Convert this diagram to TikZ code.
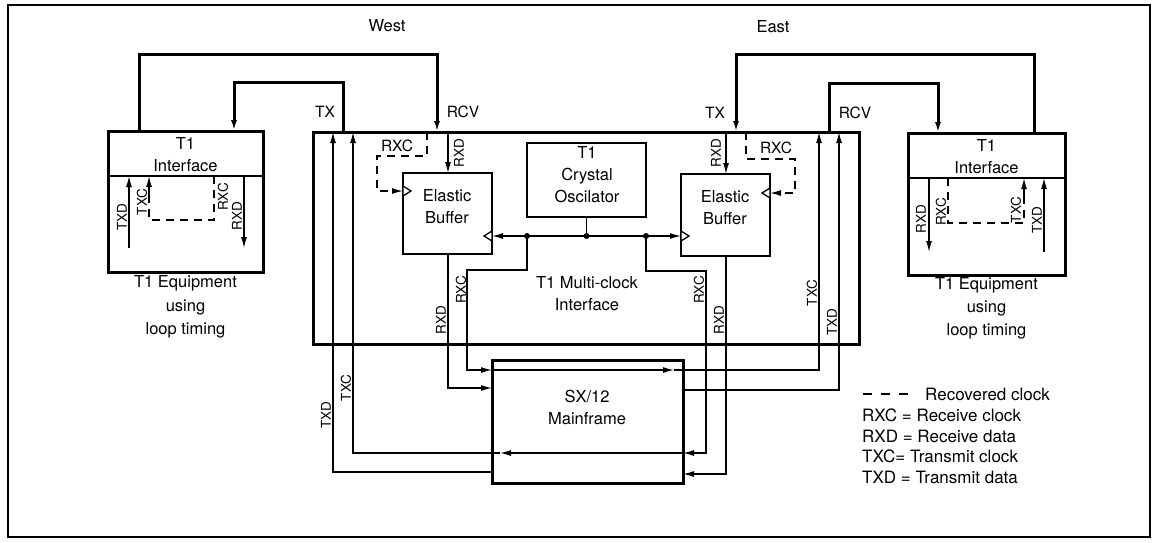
\documentclass[tikz,border=0pt]{standalone}
\usepackage{fontspec}
\setmainfont{TeX Gyre Heros}
\usetikzlibrary{arrows.meta}
\tikzset{
  heavy/.style={line width=3pt},
  sig/.style={line width=1.3pt},
  arr/.style={-{Latex[length=11pt,width=6pt]}},
  boxthin/.style={draw, line width=1.3pt, inner sep=0pt},
  boxthick/.style={draw, line width=3pt, inner sep=0pt},
  txt/.style={font=\fontsize{16.5}{22}\selectfont, inner sep=0pt, align=center},
  small/.style={font=\fontsize{15.5}{18}\selectfont, inner sep=0pt},
  rl/.style={font=\fontsize{13.5}{14}\selectfont, inner sep=0pt, rotate=90},
  rec/.style={line width=1.3pt, dash pattern=on 8pt off 6pt},
  jdot/.style={circle, fill, inner sep=0pt, minimum size=6pt},
  clk/.style={draw, line width=1.3pt, fill=white},
  leg/.style={font=\fontsize{17}{22}\selectfont, inner sep=0pt, anchor=west}
}
\begin{document}
\begin{tikzpicture}[x=1pt,y=-1pt]
\useasboundingbox (0,0) rectangle (1158,542);
\node[draw, line width=1.8pt, minimum width=1142pt, minimum height=532pt, inner sep=0pt] (frame) at (579,271) {};

% ---------- boxes ----------
\node[boxthick, minimum width=546pt, minimum height=212pt] (mci) at (586,238) {};
\node[txt] (mcitxt) at (587,294) {T1 Multi-clock\\Interface};

\node[boxthin, minimum width=89pt, minimum height=81pt] (wbuf) at (447.5,213.5) {};
\node[txt] (wbuftxt) at (447,207) {Elastic\\Buffer};
\node[boxthin, minimum width=89pt, minimum height=82pt] (ebuf) at (725.5,215) {};
\node[txt] (ebuftxt) at (725,208) {Elastic\\Buffer};
\node[boxthin, minimum width=119pt, minimum height=74pt] (osc) at (586.5,180) {};
\node[txt] (osctxt) at (587,175) {T1\\Crystal\\Oscilator};

\node[boxthick, minimum width=191pt, minimum height=123pt] (mf) at (587.5,421.5) {};
\node[txt] (mftxt) at (587,407.5) {SX/12\\Mainframe};

\node[boxthick, minimum width=155pt, minimum height=141pt] (wt1) at (185.5,201.5) {};
\node[txt] (wt1txt) at (185.5,154.5) {T1\\Interface};
\node[txt, font=\fontsize{16.5}{23.5}\selectfont] (wt1cap) at (185.5,307) {T1 Equipment\\using\\loop timing};
\node[boxthick, minimum width=157pt, minimum height=142pt] (et1) at (986.5,204) {};
\node[txt] (et1txt) at (986.5,156.5) {T1\\Interface};
\node[txt, font=\fontsize{16.5}{23}\selectfont] (et1cap) at (986.5,308) {T1 Equipment\\using\\loop timing};

% dividers
\coordinate (wdivL) at (108,176); \coordinate (wdivR) at (263,176);
\coordinate (edivL) at (908,178); \coordinate (edivR) at (1065,178);
\draw[sig] (wdivL) -- (wdivR);
\draw[sig] (edivL) -- (edivR);

% ---------- outer loops ----------
\coordinate (wo1) at (139,131); \coordinate (wo2) at (437,54); \coordinate (wrcv) at (437,132);
\coordinate (wi1) at (343,132); \coordinate (wi2) at (234,82); \coordinate (wi3) at (234,131);
\coordinate (eo1) at (1034,133); \coordinate (eo2) at (736,54); \coordinate (etx) at (736,132);
\coordinate (ei1) at (829,132); \coordinate (ei2) at (938,83); \coordinate (ei3) at (938,133);
\draw[heavy, arr] (wo1) |- (wo2) -- (wrcv);
\draw[heavy, arr] (wi1) |- (wi2) -- (wi3);
\draw[heavy, arr] (eo1) |- (eo2) -- (etx);
\draw[heavy, arr] (ei1) |- (ei2) -- (ei3);

\node[txt] (west) at (387,26) {West};
\node[txt] (east) at (773,27) {East};
\node[small] (wtxl) at (325,112) {TX};
\node[small] (wrcvl) at (463,112) {RCV};
\node[small] (etxl) at (715,113) {TX};
\node[small] (ercvl) at (855,113) {RCV};

% ---------- west inside ----------
\coordinate (wrxdtop) at (448,132); \coordinate (wrxdbuf) at (448,173);
\draw[sig, arr] (wrxdtop) -- (wrxdbuf);
\node[rl] (wrxdl1) at (459,153) {RXD};
\coordinate (wd1) at (427,132); \coordinate (wd2) at (377,156); \coordinate (wd3) at (403,191);
\draw[rec, arr] (wd1) |- (wd2) |- (wd3);
\node[small] (wrxcl1) at (397,146) {RXC};
\draw[clk] (403,186) -- (411,191) -- (403,196) -- cycle;

% bus
\coordinate (wbus) at (492,236); \coordinate (ebus) at (681,236);
\coordinate (oscb) at (586.5,217);
\draw[sig, {Latex[length=11pt,width=6pt]}-{Latex[length=11pt,width=6pt]}] (wbus) -- (ebus);
\draw[clk] (492,231) -- (484,236) -- (492,241) -- cycle;
\draw[clk] (681,231) -- (689,236) -- (681,241) -- cycle;
\node[jdot] (d1) at (527,236) {};
\node[jdot] (d2) at (586.5,236) {};
\node[jdot] (d3) at (646,236) {};
\draw[sig] (oscb) -- (d2.center);

% west RXC / RXD to mainframe
\coordinate (wr1) at (467,270); \coordinate (wr2) at (492,370);
\draw[sig, arr] (d1.center) |- (wr1) |- (wr2);
\node[rl] (wrxcl2) at (461,290) {RXC};
\coordinate (wbufbot) at (448,254); \coordinate (wr3) at (492,388);
\draw[sig, arr] (wbufbot) |- (wr3);
\node[rl] (wrxdl2) at (441,320) {RXD};

% through mainframe to east TXC
\coordinate (m1) at (674,370); \coordinate (etxc) at (819,132);
\draw[sig, arr] (wr2) -- (m1);
\draw[sig, arr] (m1) -| (etxc);
\node[rl] (etxcl) at (812,293) {TXC};
\coordinate (m2) at (683,390); \coordinate (etxd) at (839,132);
\draw[sig, arr] (m2) -| (etxd);
\node[rl] (etxdl) at (832,322) {TXD};

% ---------- east inside ----------
\coordinate (erxdtop) at (726,132); \coordinate (erxdbuf) at (726,174);
\draw[sig, arr] (erxdtop) -- (erxdbuf);
\node[rl] (erxdl1) at (716,153) {RXD};
\coordinate (ed1) at (746,132); \coordinate (ed2) at (795,159); \coordinate (ed3) at (770,193);
\draw[rec, arr] (ed1) |- (ed2) |- (ed3);
\node[small] (erxcl1) at (776,148) {RXC};
\draw[clk] (770,188) -- (762,193) -- (770,198) -- cycle;

\coordinate (er1) at (706,271); \coordinate (m3) at (683,453);
\draw[sig, arr] (d3.center) |- (er1) |- (m3);
\node[rl] (erxcl2) at (699,290) {RXC};
\coordinate (ebufbot) at (726,256); \coordinate (m5) at (683,474);
\draw[sig, arr] (ebufbot) |- (m5);
\node[rl] (erxdl2) at (719,320) {RXD};

% through mainframe to west TXC / TXD
\coordinate (m4) at (500,453); \coordinate (wtxc) at (353,132);
\draw[sig, arr] (m3) -- (m4);
\draw[sig, arr] (m4) -| (wtxc);
\node[rl] (wtxcl) at (346,388) {TXC};
\coordinate (m6) at (492,472); \coordinate (wtxd) at (333,132);
\draw[sig, arr] (m6) -| (wtxd);
\node[rl] (wtxdl) at (326,415) {TXD};

% ---------- left T1 internals ----------
\coordinate (lt1) at (129,248); \coordinate (lt1t) at (129,176);
\draw[sig, arr] (lt1) -- (lt1t);
\node[rl] (ltxdl) at (122,217) {TXD};
\coordinate (lc1) at (149,200); \coordinate (lc1t) at (149,176);
\draw[sig, arr] (lc1) -- (lc1t);
\node[rl] (ltxcl) at (142,202) {TXC};
\coordinate (lr1) at (214,176); \coordinate (lr2) at (149,220);
\draw[rec] (lr1) |- (lr2) -- (lc1);
\node[rl] (lrxcl) at (223,197) {RXC};
\coordinate (ld1) at (244,176); \coordinate (ld2) at (244,248);
\draw[sig, arr] (ld1) -- (ld2);
\node[rl] (lrxdl) at (237,216) {RXD};

% ---------- right T1 internals ----------
\coordinate (rd1) at (929,178); \coordinate (rd2) at (929,252);
\draw[sig, arr] (rd1) -- (rd2);
\node[rl] (rrxdl) at (921,219) {RXD};
\coordinate (rr1) at (948,178); \coordinate (rr2) at (1024,223); \coordinate (rc1) at (1024,200);
\draw[rec] (rr1) |- (rr2) -- (rc1);
\node[rl] (rrxcl) at (941,212) {RXC};
\coordinate (rc1t) at (1024,178);
\draw[sig, arr] (rc1) -- (rc1t);
\node[rl] (rtxcl) at (1016,210) {TXC};
\coordinate (rt1) at (1044,252); \coordinate (rt1t) at (1044,178);
\draw[sig, arr] (rt1) -- (rt1t);
\node[rl] (rtxdl) at (1037,220) {TXD};

% ---------- legend ----------
\coordinate (lg1) at (863,394); \coordinate (lg2) at (913,394);
\draw[line width=1.3pt, dash pattern=on 9pt off 9pt] (lg1) -- (lg2);
\node[leg] (lgrec) at (925,394) {Recovered clock};
\node[leg] (lgrxc) at (862,415) {RXC = Receive clock};
\node[leg] (lgrxd) at (862,436) {RXD = Receive data};
\node[leg] (lgtxc) at (862,456) {TXC= Transmit clock};
\node[leg] (lgtxd) at (862,477) {TXD = Transmit data};
\end{tikzpicture}
\end{document}
